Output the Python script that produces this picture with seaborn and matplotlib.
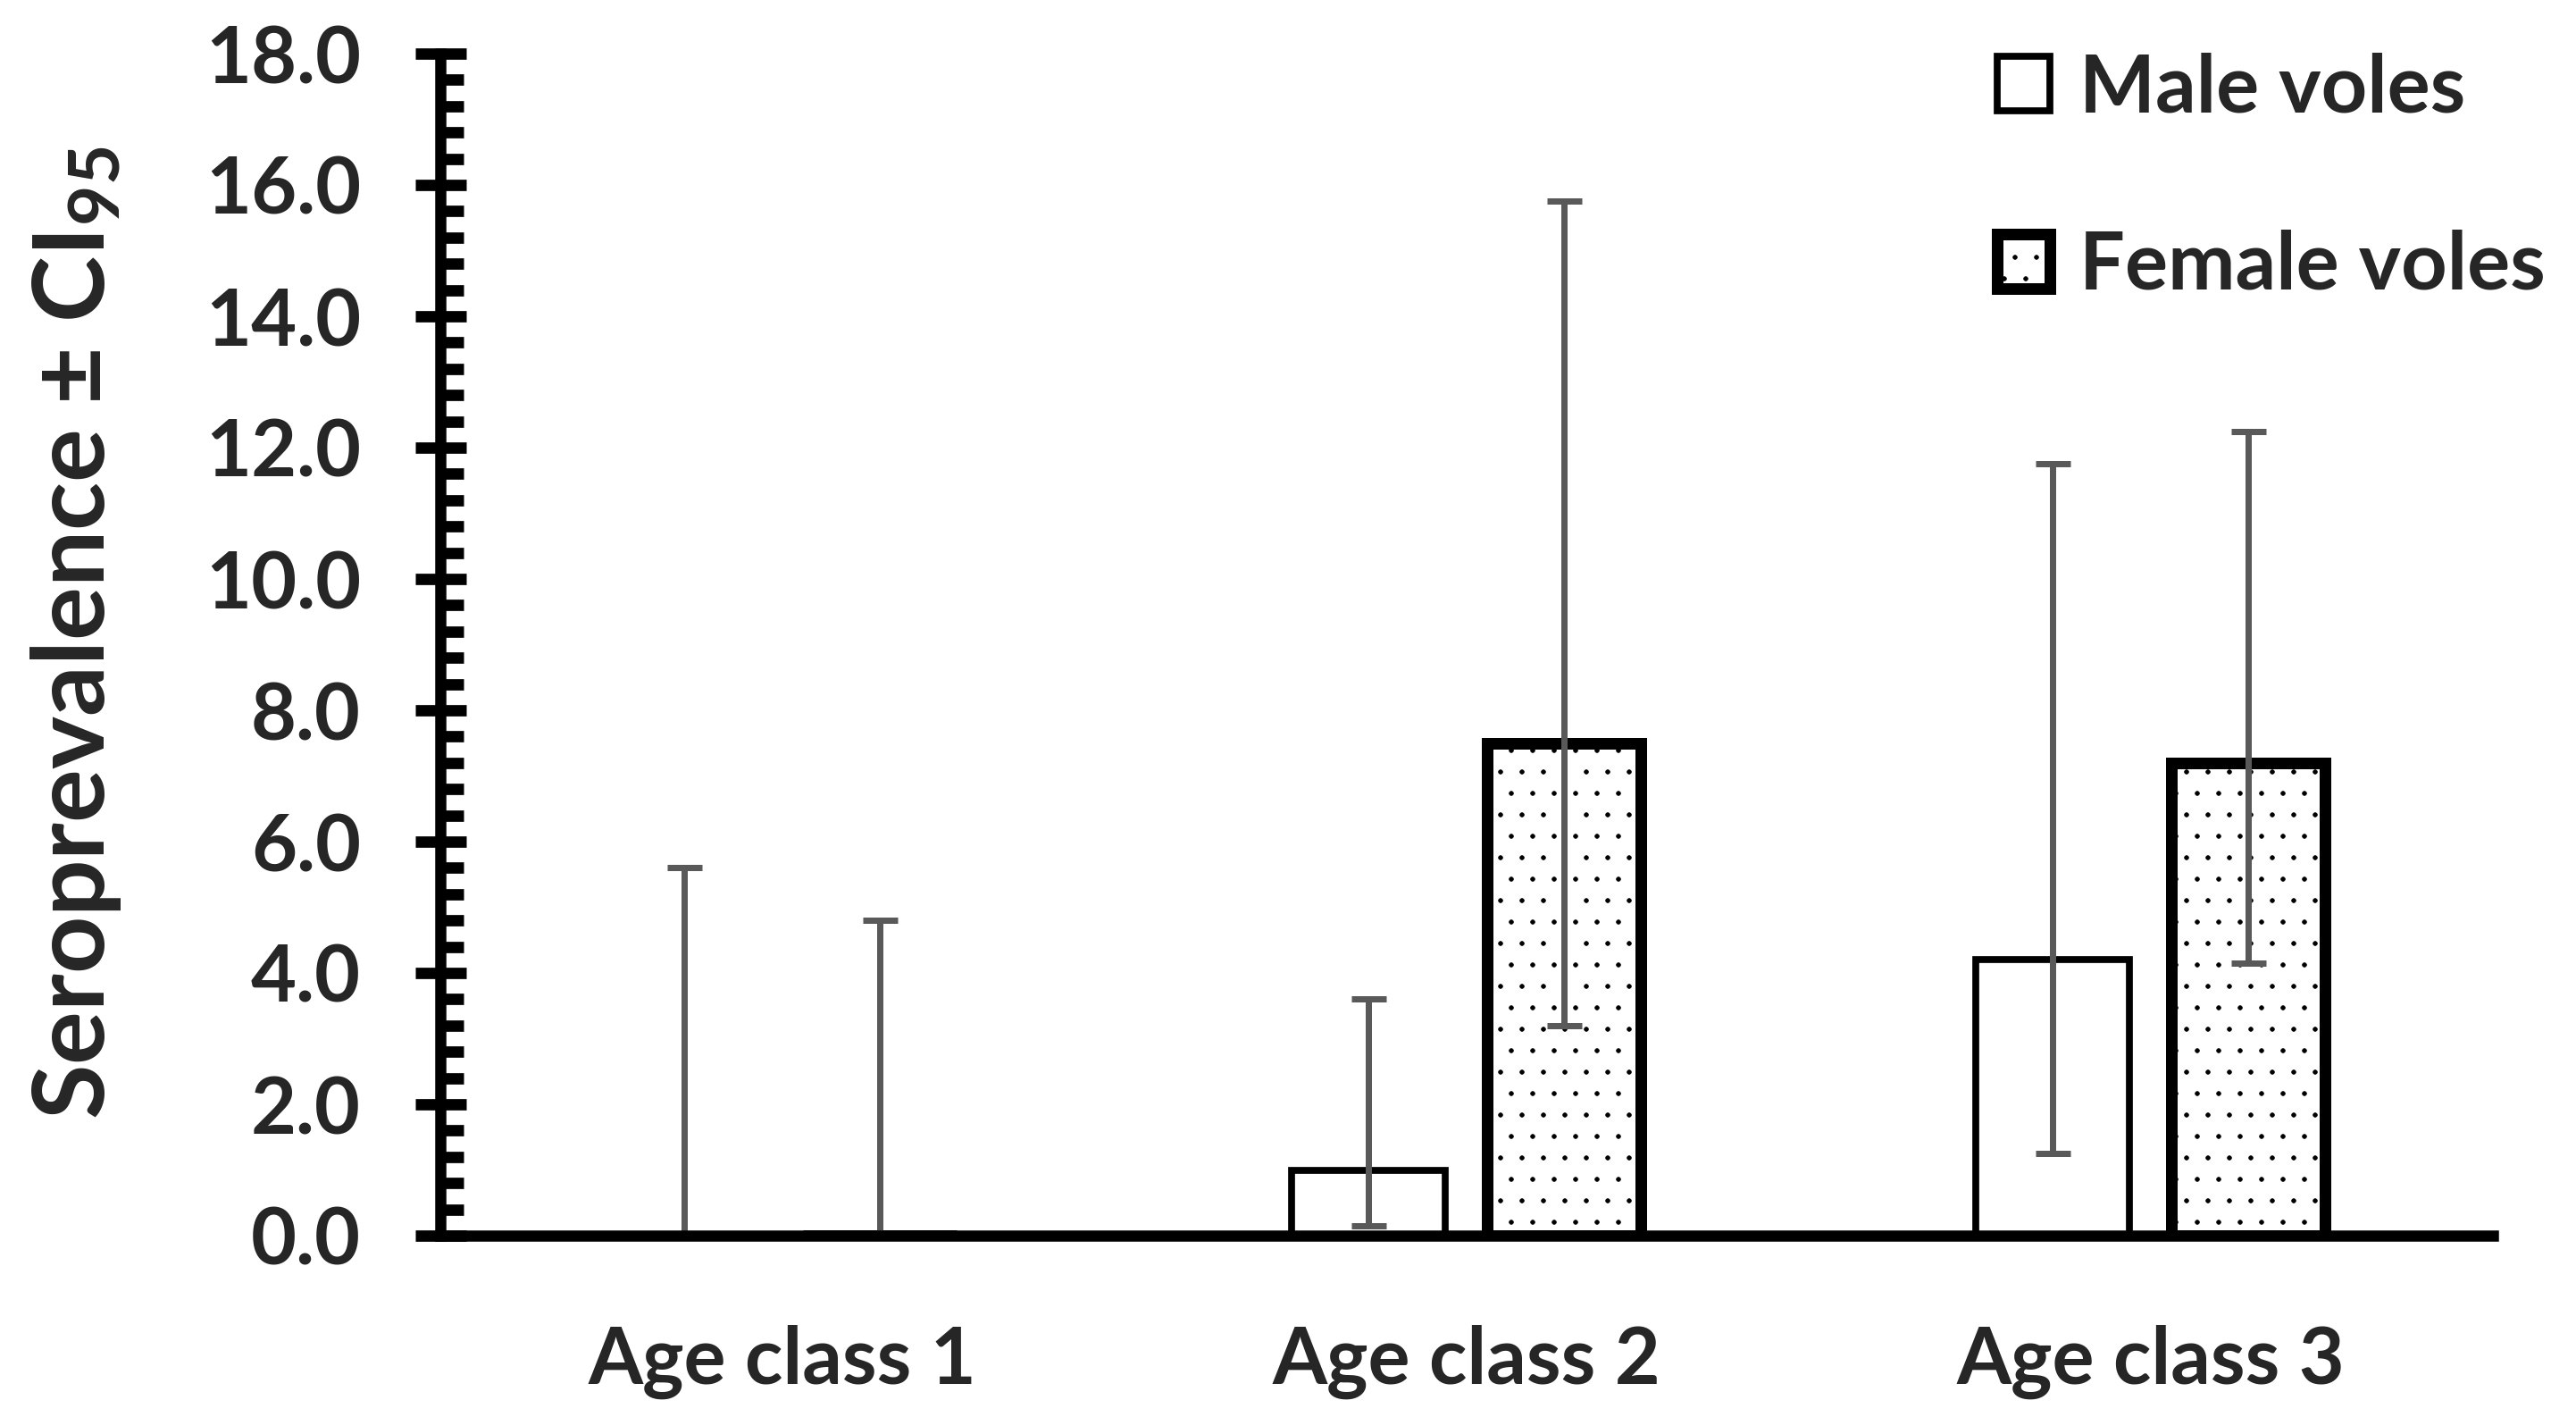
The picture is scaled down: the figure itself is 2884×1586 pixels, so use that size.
import numpy as np
import pandas as pd
import matplotlib
matplotlib.use("Agg")
import matplotlib.pyplot as plt
import seaborn as sns
from matplotlib.ticker import MultipleLocator, FormatStrFormatter

# ---------------- data ----------------
categories = ["Age class 1", "Age class 2", "Age class 3"]
groups = ["Male voles", "Female voles"]
male_values = [0.0, 1.0, 4.2]
female_values = [0.0, 7.5, 7.2]
male_ci_low = [0.0, 0.15, 1.25]
male_ci_high = [5.6, 3.6, 11.75]
female_ci_low = [0.0, 3.2, 4.15]
female_ci_high = [4.8, 15.75, 12.25]
y_ticks = [0, 2, 4, 6, 8, 10, 12, 14, 16, 18]
y_label = "Seroprevalence ± CI$_{95}$"

# ---------------- style ----------------
sns.set_theme(style="white")
plt.rcParams["font.family"] = ["Lato", "DejaVu Sans"]
plt.rcParams["font.weight"] = "bold"
plt.rcParams["mathtext.fontset"] = "custom"
plt.rcParams["mathtext.rm"] = "Lato:bold"
plt.rcParams["mathtext.it"] = "Lato:bold"
plt.rcParams["mathtext.bf"] = "Lato:bold"
plt.rcParams["mathtext.sf"] = "Lato:bold"
plt.rcParams["hatch.linewidth"] = 0.3

DPI = 144
fig = plt.figure(figsize=(2884 / DPI, 1586 / DPI), dpi=DPI)
fig.patch.set_facecolor("white")
ax = fig.add_axes([492.5 / 2884, 1 - 1383 / 1586,
                   (2790.7 - 492.5) / 2884, (1383 - 60) / 1586])
ax.set_facecolor("white")

df = pd.DataFrame({
    "category": categories * 2,
    "sex": [groups[0]] * 3 + [groups[1]] * 3,
    "value": male_values + female_values,
})

sns.barplot(data=df, x="category", y="value", hue="sex",
            order=categories, hue_order=groups,
            palette=["white", "white"], width=0.572, gap=0.213,
            errorbar=None, legend=False, ax=ax, saturation=1)

edge_widths = [3.85, 6.5]
hatches = [None, "."]
for cont, lw, h in zip(ax.containers, edge_widths, hatches):
    for p in cont.patches:
        p.set_facecolor("white")
        p.set_edgecolor("black")
        p.set_linewidth(lw)
        p.set_joinstyle("miter")
        if h:
            p.set_hatch(h)

# error bars at the bar centres
lows = [male_ci_low, female_ci_low]
highs = [male_ci_high, female_ci_high]
vals = [male_values, female_values]
for cont, lo, hi, v in zip(ax.containers, lows, highs, vals):
    xs = [p.get_x() + p.get_width() / 2 for p in cont.patches]
    v = np.array(v)
    yerr = [v - np.array(lo), np.array(hi) - v]
    ax.errorbar(xs, v, yerr=yerr, fmt="none", ecolor="#595959",
                elinewidth=3.5, capsize=9.75, capthick=3.5, zorder=2)

# axes
ax.set_xlim(-0.5, 2.5)
ax.set_ylim(0, 18)
ax.set_yticks(y_ticks)
ax.yaxis.set_major_formatter(FormatStrFormatter("%.1f"))
ax.yaxis.set_minor_locator(MultipleLocator(0.4))
ax.set_xlabel("")
ax.set_ylabel(y_label, fontsize=56, fontweight="bold", labelpad=46)
ax.yaxis.label.set_y(0.51)

for s in ["top", "right"]:
    ax.spines[s].set_visible(False)
for s in ["left", "bottom"]:
    ax.spines[s].set_linewidth(6.25)
    ax.spines[s].set_color("black")

ax.tick_params(axis="y", which="major", direction="inout", length=28.5,
               width=6.35, color="black", labelsize=44, pad=30, left=True)
ax.tick_params(axis="y", which="minor", direction="in", length=12.75,
               width=6.35, color="black", left=True)
ax.tick_params(axis="x", which="both", length=0, labelsize=44, pad=50)
for lab in ax.get_xticklabels() + ax.get_yticklabels():
    lab.set_fontweight("bold")
ax.grid(False)

leg = ax.legend(handles=list(ax.containers), labels=groups,
                loc="upper left", bbox_to_anchor=(2236 / 2884, 1 - 58 / 1586),
                bbox_transform=fig.transFigure, frameon=False,
                borderpad=0, borderaxespad=0,
                handlelength=0.66, handleheight=0.66, handletextpad=0.36,
                labelspacing=1.3, prop={"weight": "bold", "size": 45})

fig.savefig("out.png", dpi=DPI, facecolor="white")
